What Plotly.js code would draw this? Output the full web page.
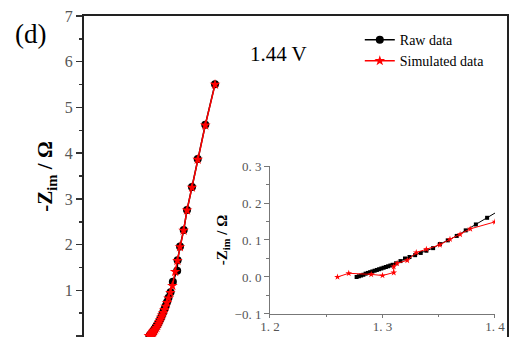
<!DOCTYPE html>
<html>
<head>
<meta charset="utf-8">
<script src="https://cdn.plot.ly/plotly-3.0.1.min.js"></script>
<style>html,body{margin:0;padding:0;background:#fff;}#chart{width:510px;height:337px;}</style>
</head>
<body>
<div id="chart"></div>
<script>
// Raw impedance data (Z_re, -Z_im)
const rawX = [1.277,1.279,1.281,1.283,1.285,1.287,1.289,1.291,1.293,1.295,1.297,1.299,1.301,1.303,1.305,1.307,1.309,1.312,1.316,1.320,1.324,1.329,1.334,1.339,1.345,1.351,1.358,1.366,1.374,1.383,1.393,1.404,1.416,1.430,1.445,1.461,1.478,1.496,1.515,1.535,1.556,1.578,1.602,1.628,1.656,1.690,1.735,1.785,1.880,1.890,1.942,2.023,2.095,2.204,2.329,2.495,2.708];
const rawY = [0.000,0.002,0.004,0.006,0.009,0.011,0.013,0.015,0.017,0.019,0.021,0.023,0.025,0.027,0.029,0.031,0.033,0.037,0.043,0.050,0.054,0.059,0.065,0.071,0.078,0.089,0.099,0.111,0.126,0.142,0.160,0.178,0.197,0.220,0.245,0.275,0.305,0.340,0.380,0.425,0.475,0.530,0.590,0.660,0.740,0.840,0.960,1.190,1.430,1.660,1.960,2.320,2.760,3.260,3.870,4.620,5.510];
// Simulated (fitted) data
const simX = [1.260,1.270,1.290,1.300,1.310,1.310,1.313,1.322,1.330,1.339,1.351,1.360,1.369,1.378,1.400,1.425,1.445,1.465,1.485,1.505,1.525,1.548,1.572,1.598,1.625,1.655,1.690,1.730,1.775,1.835,1.885,1.940,2.020,2.095,2.204,2.329,2.495,2.708];
const simY = [0.000,0.010,0.007,0.004,0.012,0.028,0.037,0.045,0.066,0.075,0.087,0.102,0.115,0.130,0.149,0.185,0.228,0.272,0.315,0.360,0.405,0.455,0.510,0.575,0.648,0.730,0.830,0.950,1.100,1.410,1.650,1.950,2.310,2.750,3.250,3.860,4.610,5.500];
const legendNames = ["Raw data", "Simulated data"];
const insetXTicks = [1.2, 1.3, 1.4];
const insetXTickText = ["1. 2", "1. 3", "1. 4"];
const insetYTicks = [-0.1, 0.0, 0.1, 0.2, 0.3];
const insetYTickText = ["\u22120. 1", "0. 0", "0. 1", "0. 2", "0. 3"];
const voltageLabel = "1.44 V";
const panelLabel = "(d)";

const serif = "Liberation Serif, Times New Roman, serif";

const traces = [
  {x: rawX, y: rawY, xaxis: "x", yaxis: "y", mode: "lines+markers", name: legendNames[0],
   line: {color: "#000", width: 1.5}, marker: {symbol: "circle", size: 8, color: "#000"}},
  {x: simX, y: simY, xaxis: "x", yaxis: "y", mode: "lines+markers", name: legendNames[1],
   line: {color: "#ff0000", width: 1.5}, marker: {symbol: "star", size: 8, color: "#ff0000"}},
  {x: rawX, y: rawY, xaxis: "x2", yaxis: "y2", mode: "lines+markers", showlegend: false,
   line: {color: "#000", width: 1}, marker: {symbol: "square", size: 4, color: "#000"}},
  {x: simX, y: simY, xaxis: "x2", yaxis: "y2", mode: "lines+markers", showlegend: false,
   line: {color: "#ff0000", width: 1}, marker: {symbol: "star", size: 5, color: "#ff0000"}}
];

const layout = {
  width: 510, height: 337,
  margin: {l: 84, r: 3, t: 16, b: 0},
  paper_bgcolor: "#fff", plot_bgcolor: "rgba(0,0,0,0)",
  showlegend: true,
  legend: {x: 0.652, y: 0.975, xanchor: "left", yanchor: "top", bgcolor: "rgba(0,0,0,0)",
           font: {family: serif, size: 14, color: "#000"}, tracegroupgap: 0},
  xaxis: {domain: [0, 1], range: [-0.16, 9.1], side: "top", showline: true, linewidth: 2, linecolor: "#222",
          showticklabels: false, ticks: "", showgrid: false, zeroline: false},
  yaxis: {domain: [0, 1], range: [-0.02, 7], showline: true, linewidth: 2, linecolor: "#222", mirror: true,
          ticks: "outside", ticklen: 6, tickwidth: 1.5, tickcolor: "#333", dtick: 1,
          minor: {dtick: 0.5, ticks: "outside", ticklen: 3, tickcolor: "#333"},
          showgrid: false, zeroline: false,
          tickfont: {family: serif, size: 16, color: "#555"},
          title: {text: "<b>-Z<sub>im</sub> / \u03a9</b>", font: {family: serif, size: 21, color: "#000"}, standoff: 6}},
  xaxis2: {domain: [0.4397, 0.9716], anchor: "y2", range: [1.2, 1.4], showline: true, linewidth: 1, linecolor: "#777",
           tickmode: "array", tickvals: insetXTicks, ticktext: insetXTickText, ticks: "outside", ticklen: 3, tickcolor: "#777",
           ticklabelstandoff: -3,
           minor: {tickvals: [1.25, 1.35], ticks: "outside", ticklen: 2, tickcolor: "#777"},
           showgrid: false, zeroline: false, tickfont: {family: serif, size: 13, color: "#555"}},
  yaxis2: {domain: [0.0717, 0.5327], anchor: "x2", range: [-0.1, 0.3], showline: true, linewidth: 1, linecolor: "#777",
           tickmode: "array", tickvals: insetYTicks, ticktext: insetYTickText, ticks: "outside", ticklen: 5, tickcolor: "#777",
           minor: {tickvals: [-0.05, 0.05, 0.15, 0.25], ticks: "outside", ticklen: 3, tickcolor: "#777"},
           showgrid: false, zeroline: false, tickfont: {family: serif, size: 13, color: "#555"},
           title: {text: "<b>-Z<sub>im</sub> / \u03a9</b>", font: {family: serif, size: 15, color: "#000"}, standoff: 3}},
  annotations: [
    {text: voltageLabel, xref: "paper", yref: "paper", x: (278 - 84) / 423, y: (337 - 54) / 321,
     xanchor: "center", yanchor: "middle", showarrow: false, font: {family: serif, size: 21, color: "#000"}},
    {text: panelLabel, xref: "paper", yref: "paper", x: (30 - 84) / 423, y: (337 - 34) / 321,
     xanchor: "center", yanchor: "middle", showarrow: false, font: {family: serif, size: 27, color: "#000"}}
  ]
};

Plotly.newPlot("chart", traces, layout, {staticPlot: true, displayModeBar: false});
</script>
</body>
</html>
